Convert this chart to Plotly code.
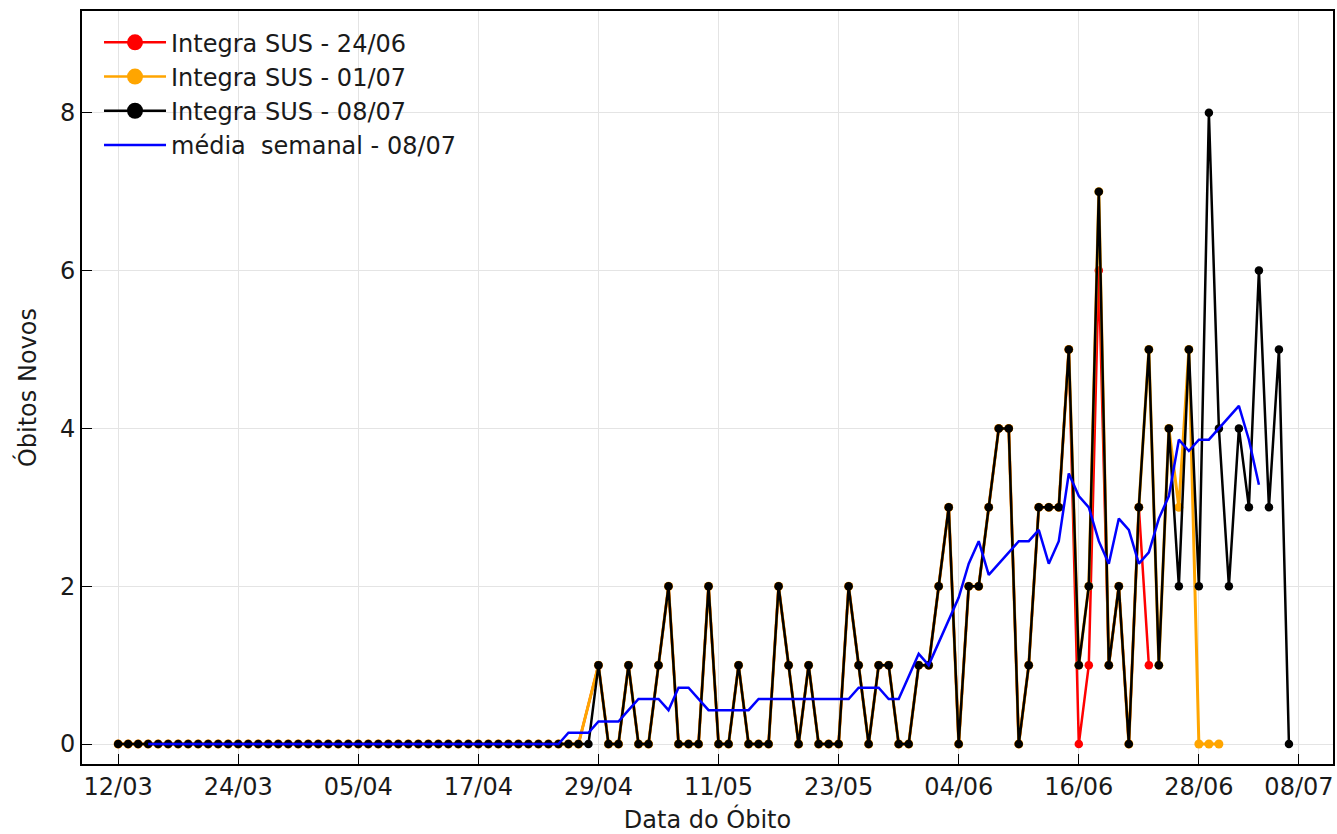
import plotly.graph_objects as go
import pandas as pd

START_DATE = "2020-03-12"

# Integra SUS - 08/07 (daily new deaths)
black_vals = [0, 0, 0, 0, 0, 0, 0, 0, 0, 0, 0, 0, 0, 0, 0, 0, 0, 0, 0, 0,
              0, 0, 0, 0, 0, 0, 0, 0, 0, 0, 0, 0, 0, 0, 0, 0, 0, 0, 0, 0,
              0, 0, 0, 0, 0, 0, 0, 0,
              1, 0, 0, 1, 0, 0, 1, 2, 0, 0, 0, 2, 0, 0, 1, 0, 0, 0, 2, 1,
              0, 1, 0, 0, 0, 2, 1, 0, 1, 1, 0, 0, 1, 1, 2, 3, 0, 2, 2, 3,
              4, 4, 0, 1, 3, 3, 3, 5, 1, 2, 7, 1, 2, 0, 3, 5, 1, 4, 2, 5,
              2, 8, 4, 2, 4, 3, 6, 3, 5, 0]

# Integra SUS - 01/07
orange_vals = [0, 0, 0, 0, 0, 0, 0, 0, 0, 0, 0, 0, 0, 0, 0, 0, 0, 0, 0, 0,
               0, 0, 0, 0, 0, 0, 0, 0, 0, 0, 0, 0, 0, 0, 0, 0, 0, 0, 0, 0,
               0, 0, 0, 0, 0, 0, 0, None,
               1, 0, 0, 1, 0, 0, 1, 2, 0, 0, 0, 2, 0, 0, 1, 0, 0, 0, 2, 1,
               0, 1, 0, 0, 0, 2, 1, 0, 1, 1, 0, 0, 1, 1, 2, 3, 0, 2, 2, 3,
               4, 4, 0, 1, 3, 3, 3, 5, 1, 2, 7, 1, 2, 0, 3, 5, 1, 4, 3, 5,
               0, 0, 0]

# Integra SUS - 24/06
red_vals = [0, 0, 0, 0, 0, 0, 0, 0, 0, 0, 0, 0, 0, 0, 0, 0, 0, 0, 0, 0,
            0, 0, 0, 0, 0, 0, 0, 0, 0, 0, 0, 0, 0, 0, 0, 0, 0, 0, 0, 0,
            0, 0, 0, 0, 0, 0, 0, None,
            1, 0, 0, 1, 0, 0, 1, 2, 0, 0, 0, 2, 0, 0, 1, 0, 0, 0, 2, 1,
            0, 1, 0, 0, 0, 2, 1, 0, 1, 1, 0, 0, 1, 1, 2, 3, 0, 2, 2, 3,
            4, 4, 0, 1, 3, 3, 3, 5, 0, 1, 6, 1, 2, 0, 3, 1]

# média semanal - 08/07
blue_vals = [None, None, None,
             0, 0, 0, 0, 0, 0, 0, 0, 0, 0, 0, 0, 0, 0, 0, 0, 0, 0, 0, 0,
             0, 0, 0, 0, 0, 0, 0, 0, 0, 0, 0, 0, 0, 0, 0, 0, 0, 0, 0, 0,
             0, 0,
             0.143, 0.143, 0.143, 0.286, 0.286, 0.286, 0.429, 0.571, 0.571,
             0.571, 0.429, 0.714, 0.714, 0.571, 0.429, 0.429, 0.429, 0.429,
             0.429, 0.571, 0.571, 0.571, 0.571, 0.571, 0.571, 0.571, 0.571,
             0.571, 0.571, 0.714, 0.714, 0.714, 0.571, 0.571, 0.857, 1.143,
             1.0, 1.286, 1.571, 1.857, 2.286, 2.571, 2.143, 2.286, 2.429,
             2.571, 2.571, 2.714, 2.286, 2.571, 3.429, 3.143, 3.0, 2.571,
             2.286, 2.857, 2.714, 2.286, 2.429, 2.857, 3.143, 3.857, 3.714,
             3.857, 3.857, 4.0, 4.143, 4.286, 3.857, 3.286,
             None, None, None]

tick_dates = ["2020-03-12", "2020-03-24", "2020-04-05", "2020-04-17",
              "2020-04-29", "2020-05-11", "2020-05-23", "2020-06-04",
              "2020-06-16", "2020-06-28", "2020-07-08"]
tick_labels = ["12/03", "24/03", "05/04", "17/04", "29/04", "11/05",
               "23/05", "04/06", "16/06", "28/06", "08/07"]
y_ticks = [0, 2, 4, 6, 8]

dates = pd.date_range(START_DATE, periods=len(black_vals), freq="D")

FONT = "DejaVu Sans"
FS = 24
fig = go.Figure()

fig.add_trace(go.Scatter(
    x=dates[:len(red_vals)], y=red_vals, mode="lines+markers",
    line=dict(color="#FF0000", width=2.5), marker=dict(color="#FF0000", size=8.5),
    connectgaps=True, showlegend=False, name="Integra SUS - 24/06"))
fig.add_trace(go.Scatter(
    x=dates[:len(orange_vals)], y=orange_vals, mode="lines+markers",
    line=dict(color="#FFA500", width=3), marker=dict(color="#FFA500", size=9),
    connectgaps=True, showlegend=False, name="Integra SUS - 01/07"))
fig.add_trace(go.Scatter(
    x=dates, y=black_vals, mode="lines+markers",
    line=dict(color="#000000", width=2.5), marker=dict(color="#000000", size=8.5),
    showlegend=False, name="Integra SUS - 08/07"))
fig.add_trace(go.Scatter(
    x=dates[:len(blue_vals)], y=blue_vals, mode="lines",
    line=dict(color="#0000FF", width=2.5),
    showlegend=False, name="média  semanal - 08/07"))

# legend entries
legend_items = [("Integra SUS - 24/06", "#FF0000", True),
                ("Integra SUS - 01/07", "#FFA500", True),
                ("Integra SUS - 08/07", "#000000", True),
                ("média  semanal - 08/07", "#0000FF", False)]
for i, (nm, col, mk) in enumerate(legend_items):
    fig.add_trace(go.Scatter(
        x=[None], y=[None], name=nm, legendgroup=f"g{i}",
        mode="lines+markers" if mk else "lines",
        line=dict(color=col, width=2.5),
        marker=dict(color=col, size=16)))

fig.update_layout(
    width=1337, height=834,
    margin=dict(l=81.5, r=2, t=11, b=69),
    plot_bgcolor="white", paper_bgcolor="white",
    font=dict(family=FONT, size=FS, color="#1a1a1a"),
    legend=dict(x=0.0136, y=0.9877, xanchor="left", yanchor="top",
                bgcolor="rgba(255,255,255,0)", borderwidth=0,
                font=dict(family=FONT, size=FS, color="#1a1a1a"),
                tracegroupgap=0, itemwidth=62),
    xaxis=dict(
        type="date",
        range=["2020-03-08 09:20", "2020-07-11 09:40"],
        tickmode="array", tickvals=tick_dates, ticktext=tick_labels,
        ticks="inside", ticklen=10, tickwidth=1, tickcolor="#000000",
        showline=True, linewidth=2, linecolor="#000000", mirror=True,
        showgrid=True, gridcolor="#e4e4e4", gridwidth=1, zeroline=False,
        tickfont=dict(family=FONT, size=FS),
        title=dict(text="Data do Óbito", font=dict(family=FONT, size=FS), standoff=14),
    ),
    yaxis=dict(
        range=[-0.253, 9.29],
        tickmode="array", tickvals=y_ticks,
        ticks="inside", ticklen=10, tickwidth=1, tickcolor="#000000",
        showline=True, linewidth=2, linecolor="#000000", mirror=True,
        showgrid=True, gridcolor="#e4e4e4", gridwidth=1, zeroline=False,
        tickfont=dict(family=FONT, size=FS),
    ),
    annotations=[dict(
        text="Óbitos Novos", textangle=-90, showarrow=False,
        xref="paper", yref="paper", x=-0.0443, y=0.5,
        xanchor="center", yanchor="middle",
        font=dict(family=FONT, size=FS, color="#1a1a1a"),
    )],
)

fig.write_html(
    "out.html",
    config={"displayModeBar": False},
    post_script="document.body.style.margin='0';document.body.style.overflow='hidden';",
)
